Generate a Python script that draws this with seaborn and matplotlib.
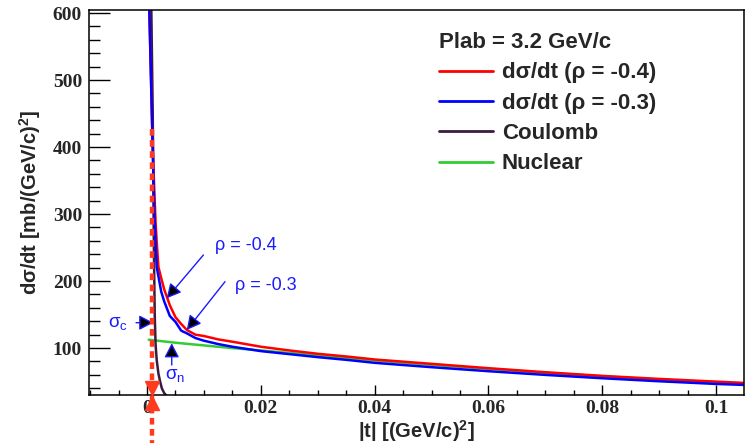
import numpy as np
import pandas as pd
import matplotlib
matplotlib.use("Agg")
import matplotlib.pyplot as plt
from matplotlib.lines import Line2D
from matplotlib.ticker import MultipleLocator
import seaborn as sns

# ---------------- data ----------------
t_tot = [0.0003, 0.0004, 0.0006, 0.0009, 0.0011, 0.0013, 0.0015, 0.0017, 0.002,
         0.0025, 0.003, 0.004, 0.005, 0.006, 0.007, 0.0085, 0.01, 0.0125, 0.015,
         0.02, 0.025, 0.03, 0.035, 0.04, 0.05, 0.06, 0.07, 0.08, 0.09, 0.1, 0.105]
dsdt_rho04 = [800, 605, 535, 432, 376, 330, 288, 258, 221,
              204, 188, 164, 146, 136, 127, 120, 118, 113, 109.5,
              102, 96.5, 91.5, 87.5, 83, 76.5, 70, 64, 58.5, 54, 50, 48]
dsdt_rho03 = [800, 605, 535, 430, 361, 298, 258, 221, 207,
              184, 170, 148, 139, 126, 122, 115, 111, 106, 102,
              95.5, 91, 86.5, 82.5, 78, 71.5, 65.5, 60, 55, 50.5, 46.5, 45]

t_coul = [0.0006, 0.0010, 0.0012, 0.00135, 0.0015, 0.0017, 0.002, 0.0023, 0.0026, 0.003, 0.0034]
coulomb = [700, 450, 250, 150, 105, 82, 62, 50, 40, 33, 29]

t_nuc = [0.0003, 0.005, 0.01, 0.015, 0.02, 0.03, 0.04, 0.05, 0.06, 0.07, 0.08, 0.09, 0.1, 0.105]
nuclear = [112.5, 108, 104, 100, 96.5, 89, 81.5, 75, 69, 63, 58, 53, 48.5, 46.5]

t_cut = 0.0009
cut_span = [427, -45]

x_ticks = [0, 0.02, 0.04, 0.06, 0.08, 0.1]
x_ticklabels = ["0", "0.02", "0.04", "0.06", "0.08", "0.1"]
y_ticks = [100, 200, 300, 400, 500, 600]

series_labels = ["dσ/dt (ρ = -0.4)", "dσ/dt (ρ = -0.3)", "Coulomb", "Nuclear"]
legend_title = "Plab = 3.2 GeV/c"

# ---------------- style ----------------
sns.set_theme(style="white")
plt.rcParams["font.family"] = ["Liberation Sans", "DejaVu Sans"]
plt.rcParams["mathtext.fontset"] = "custom"
plt.rcParams["mathtext.rm"] = "Liberation Sans"
plt.rcParams["mathtext.it"] = "Liberation Sans:italic"
plt.rcParams["mathtext.bf"] = "Liberation Sans:bold"

RED = "#ff0000"
BLUE = "#0000ff"
COUL = "#3b1a40"
GREEN = "#33cc33"
ANN = "#1a1aff"
CUT = "#ff3b1f"

fig = plt.figure(figsize=(7.5, 4.43), dpi=100)
ax = fig.add_axes([89 / 750, 1 - 395 / 443, 655 / 750, 385 / 443])

df_nuc = pd.DataFrame({"t": t_nuc, "v": nuclear})
df_coul = pd.DataFrame({"t": t_coul, "v": coulomb})
df_tot = pd.DataFrame({"t": t_tot, "r04": dsdt_rho04, "r03": dsdt_rho03})

lw = 1.8
sns.lineplot(data=df_nuc, x="t", y="v", color=GREEN, lw=lw, ax=ax, sort=False)
sns.lineplot(data=df_coul, x="t", y="v", color=COUL, lw=lw, ax=ax, sort=False)
sns.lineplot(data=df_tot, x="t", y="r04", color=RED, lw=lw, ax=ax, sort=False)
sns.lineplot(data=df_tot, x="t", y="r03", color=BLUE, lw=lw, ax=ax, sort=False)

# cut line with arrowheads
ax.plot([t_cut, t_cut], cut_span, color=CUT, lw=3.2, dashes=(1.5, 1.0),
        clip_on=False, zorder=6, solid_capstyle="butt", dash_capstyle="butt")
ax.plot([t_cut], [40.9], marker="v", ms=10.5, color=CUT, clip_on=False, zorder=7, ls="none")
ax.plot([t_cut], [18.5], marker="^", ms=10.5, color=CUT, clip_on=False, zorder=7, ls="none")

ax.set_xlim(-0.0102, 0.1049)
ax.set_ylim(30, 604.5)

# ticks
ax.set_xticks(x_ticks)
ax.set_xticklabels(x_ticklabels)
ax.set_yticks(y_ticks)
ax.xaxis.set_minor_locator(MultipleLocator(0.005))
ax.yaxis.set_minor_locator(MultipleLocator(20))
tick_font = dict(family="Liberation Serif", weight="bold", size=14)
for lab in ax.get_xticklabels() + ax.get_yticklabels():
    lab.set_fontproperties(matplotlib.font_manager.FontProperties(**tick_font))
ax.tick_params(axis="x", which="major", direction="in", length=7.2, width=1.0,
               pad=3.5, color="black", bottom=True, top=False)
ax.tick_params(axis="x", which="minor", direction="in", length=3.6, width=1.0,
               color="black", bottom=True, top=False)
ax.tick_params(axis="y", which="major", direction="in", length=15, width=1.0,
               pad=5, color="black", left=True, right=False)
ax.tick_params(axis="y", which="minor", direction="in", length=8, width=1.0,
               color="black", left=True, right=False)
for s in ax.spines.values():
    s.set_color("black")
    s.set_linewidth(1.1)

ax.set_xlabel("|t| [(GeV/c)$^\\mathbf{2}$]", fontsize=14.5, fontweight="bold")
ax.set_ylabel("dσ/dt [mb/(GeV/c)$^\\mathbf{2}$]", fontsize=14.5, fontweight="bold")
ax.xaxis.set_label_coords(0.5, -0.06)
ax.yaxis.set_label_coords(-0.07, 0.5)

# annotations
arrow_kw = dict(arrowstyle="-|>,head_length=0.86,head_width=0.45", fc="black",
                ec=ANN, lw=1.0, shrinkA=0, shrinkB=0, mutation_scale=10)
ax.annotate("", xy=(0.00346, 174.3), xytext=(0.0099, 238.9), arrowprops=arrow_kw)
ax.annotate("", xy=(0.00698, 127.0), xytext=(0.0137, 199.1), arrowprops=arrow_kw)
ax.annotate("", xy=(0.0011, 137.9), xytext=(-0.00193, 137.9), arrowprops=arrow_kw)
ax.annotate("", xy=(0.00434, 107.2), xytext=(0.00434, 74.8), arrowprops=arrow_kw)
ax.text(0.01195, 253.8, "ρ = -0.4", color=ANN, fontsize=13, va="center", ha="left")
ax.text(0.0155, 192.7, "ρ = -0.3", color=ANN, fontsize=13, va="center", ha="left")
ax.text(-0.00685, 137.4, "σ$_\\mathregular{c}$", color=ANN, fontsize=13.5, va="center", ha="left")
ax.text(0.00316, 59.8, "σ$_\\mathregular{n}$", color=ANN, fontsize=13.5, va="center", ha="left")

# legend
handles = [Line2D([], [], color=RED, lw=2), Line2D([], [], color=BLUE, lw=2),
           Line2D([], [], color=COUL, lw=2), Line2D([], [], color=GREEN, lw=2)]
leg = ax.legend(handles, series_labels, title=legend_title, loc="upper left",
                bbox_to_anchor=(429 / 750, 1 - 22 / 443), bbox_transform=fig.transFigure,
                frameon=False, alignment="left", handlelength=2.43, handletextpad=0.4,
                labelspacing=0.42, borderpad=0.45, borderaxespad=0,
                prop=dict(family="Liberation Sans", weight="bold", size=16),
                title_fontproperties=dict(family="Liberation Sans", weight="bold", size=16))

fig.savefig("out.png", dpi=100)
